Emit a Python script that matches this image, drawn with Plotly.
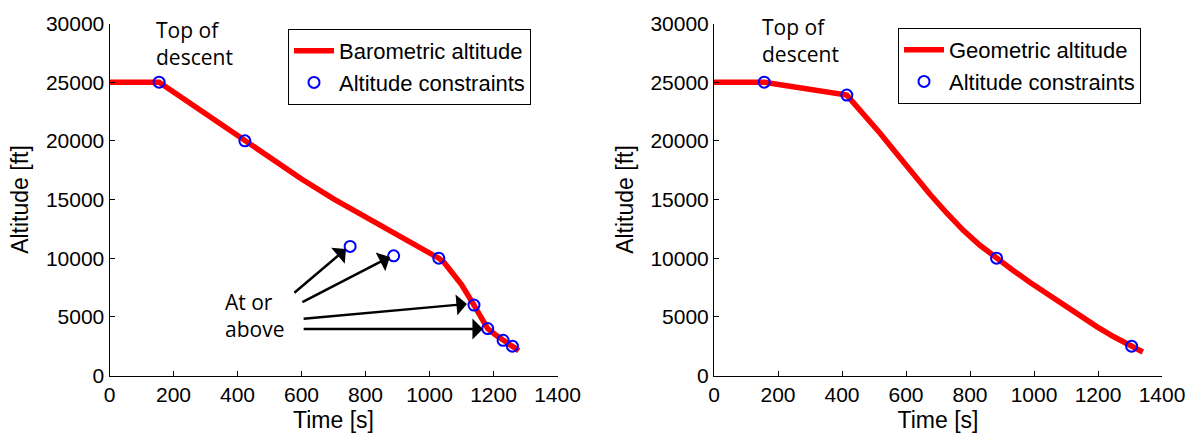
import plotly.graph_objects as go

# ---------------- data ----------------
# Left panel: barometric altitude profile
baro_time = [0, 155, 290, 423, 500, 600, 700, 800, 900, 960, 1029, 1045, 1100, 1139, 1160, 1182, 1205, 1230, 1259, 1279]
baro_alt = [25000, 25000, 22500, 20000, 18550, 16750, 15050, 13500, 12050, 11150, 10000, 9650, 7750, 6000, 5000, 4000, 3500, 3000, 2500, 2100]
baro_con_time = [155, 423, 752, 888, 1029, 1139, 1182, 1230, 1259]
baro_con_alt = [25000, 20000, 11000, 10200, 10000, 6000, 4000, 3000, 2500]

# Right panel: geometric altitude profile
geo_time = [0, 157, 415, 467, 519, 571, 623, 675, 727, 779, 831, 883, 935, 988, 1040, 1092, 1144, 1196, 1248, 1305, 1340]
geo_alt = [25000, 25000, 23900, 22350, 20650, 18900, 17150, 15450, 13850, 12370, 11100, 10000, 8950, 7930, 6960, 6000, 5050, 4170, 3320, 2450, 2000]
geo_con_time = [157, 415, 883, 1305]
geo_con_alt = [25000, 23900, 10000, 2500]

x_ticks = [0, 200, 400, 600, 800, 1000, 1200, 1400]
y_ticks = [0, 5000, 10000, 15000, 20000, 25000, 30000]

# "At or above" arrows: (tail_time, tail_alt, head_time, head_alt)
arrow_tail_time = [573, 598, 602, 602]
arrow_tail_alt = [6950, 6180, 4820, 3960]
arrow_head_time = [739, 876, 1117, 1167]
arrow_head_alt = [10780, 10100, 6100, 3960]

# ---------------- figure ----------------
RED = "#ff0000"
BLUE = "#0000ff"
TICKFONT = dict(family="Liberation Sans, Arial, sans-serif", size=21, color="black")
TITLEFONT = dict(family="Liberation Sans, Arial, sans-serif", size=23, color="black")
ANNFONT = dict(family="Open Sans, sans-serif", size=21, color="black")

fig = go.Figure()

fig.add_trace(go.Scatter(x=baro_time, y=baro_alt, mode="lines", name="Barometric altitude",
                         line=dict(color=RED, width=5.5), xaxis="x", yaxis="y", legend="legend"))
fig.add_trace(go.Scatter(x=baro_con_time, y=baro_con_alt, mode="markers", name="Altitude constraints",
                         marker=dict(symbol="circle-open", size=11, color=BLUE, line=dict(width=2, color=BLUE)),
                         xaxis="x", yaxis="y", legend="legend"))
fig.add_trace(go.Scatter(x=geo_time, y=geo_alt, mode="lines", name="Geometric altitude",
                         line=dict(color=RED, width=5.5), xaxis="x2", yaxis="y2", legend="legend2"))
fig.add_trace(go.Scatter(x=geo_con_time, y=geo_con_alt, mode="markers", name="Altitude constraints",
                         marker=dict(symbol="circle-open", size=11, color=BLUE, line=dict(width=2, color=BLUE)),
                         xaxis="x2", yaxis="y2", legend="legend2"))

ydom = [1 - 375.5 / 435, 1 - 23.5 / 435]

def xaxis_style(domain, anchor):
    return dict(domain=domain, anchor=anchor, range=[0, 1400], tickvals=x_ticks,
                ticktext=[str(v) for v in x_ticks], ticks="inside", ticklen=5, tickcolor="black",
                showline=True, linecolor="black", linewidth=1, mirror=False, showgrid=False,
                zeroline=False, tickfont=TICKFONT, automargin=False,
                title=dict(text="Time [s]", font=TITLEFONT, standoff=7))

def yaxis_style(anchor):
    return dict(domain=ydom, anchor=anchor, range=[0, 30000], tickvals=y_ticks,
                ticktext=[str(v) for v in y_ticks], ticks="inside", ticklen=5, tickcolor="black",
                showline=True, linecolor="black", linewidth=1, mirror=False, showgrid=False,
                zeroline=False, tickfont=TICKFONT, automargin=False,
                title=dict(text="Altitude [ft]", font=TITLEFONT, standoff=10))

legend_style = dict(font=dict(family="Liberation Sans, Arial, sans-serif", size=22, color="black"),
                    bgcolor="white", bordercolor="black", borderwidth=1,
                    xanchor="left", yanchor="top", itemwidth=40, tracegroupgap=0)

annotations = []
annotations.append(dict(text="Top of<br>descent", x=140, y=1 - 14 / 435, xref="x", yref="paper",
                        xanchor="left", yanchor="top", align="left", showarrow=False, font=ANNFONT))
annotations.append(dict(text="Top of<br>descent", x=144, y=1 - 11 / 435, xref="x2", yref="paper",
                        xanchor="left", yanchor="top", align="left", showarrow=False, font=ANNFONT))
annotations.append(dict(text="At or<br>above", x=355, y=7650, xref="x", yref="y",
                        xanchor="left", yanchor="top", align="left", showarrow=False, font=ANNFONT))
for tt, ta, ht, ha in zip(arrow_tail_time, arrow_tail_alt, arrow_head_time, arrow_head_alt):
    annotations.append(dict(text="", x=ht, y=ha, ax=tt, ay=ta, xref="x", yref="y",
                            axref="x", ayref="y", showarrow=True, arrowhead=1, arrowsize=1.4,
                            arrowwidth=2.5, arrowcolor="black", standoff=0))

fig.update_layout(
    width=1196, height=435,
    margin=dict(l=0, r=0, t=0, b=0, autoexpand=False),
    paper_bgcolor="white", plot_bgcolor="white",
    xaxis=xaxis_style([109.5 / 1196, 557.5 / 1196], "y"),
    yaxis=yaxis_style("x"),
    xaxis2=xaxis_style([714 / 1196, 1162 / 1196], "y2"),
    yaxis2=yaxis_style("x2"),
    legend=dict(x=288 / 1196, y=1 - 29 / 435, **legend_style),
    legend2=dict(x=898 / 1196, y=1 - 28 / 435, **legend_style),
    annotations=annotations,
    showlegend=True,
)

fig.write_html("out.html")
